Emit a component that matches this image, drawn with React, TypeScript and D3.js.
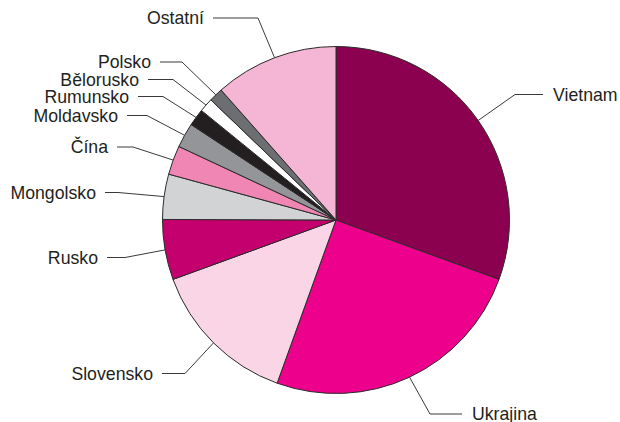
import React from 'react';
import * as d3 from 'd3';

const categories = ['Vietnam', 'Ukrajina', 'Slovensko', 'Rusko', 'Mongolsko', 'Čína', 'Moldavsko', 'Rumunsko', 'Bělorusko', 'Polsko', 'Ostatní'];
const shares = [30.5, 24.9, 13.9, 5.6, 4.2, 2.7, 2.3, 1.6, 1.3, 1.3, 11.5];
const colors = ['#8c0050', '#ec008c', '#f9d5e5', '#c4006e', '#d1d3d4', '#f086b4', '#939598', '#231f20', '#ffffff', '#6d6e71', '#f5b5d4'];

// label layout: elbow point, end of horizontal line, text anchor side
const labelLayout = [
  { ex: 515, ey: 94.5, lx: 543, side: 'right' },
  { ex: 430, ey: 414, lx: 462, side: 'right' },
  { ex: 185, ey: 373.5, lx: 162, side: 'left' },
  { ex: 125, ey: 257.5, lx: 107, side: 'left' },
  { ex: 118, ey: 192.5, lx: 105, side: 'left' },
  { ex: 133, ey: 147, lx: 117, side: 'left' },
  { ex: 147, ey: 115.5, lx: 127, side: 'left' },
  { ex: 163, ey: 96.5, lx: 138, side: 'left' },
  { ex: 173, ey: 79.5, lx: 148, side: 'left' },
  { ex: 182, ey: 62, lx: 160, side: 'left' },
  { ex: 258, ey: 18, lx: 213, side: 'left' },
];

const W = 620;
const H = 422;
const cx = 336;
const cy = 220;
const R = 173.5;

export default function App() {
  const data = categories.map((c, i) => ({ name: c, value: shares[i], color: colors[i] }));
  const pie = d3.pie<any>().sort(null).value((d: any) => d.value).startAngle(0).endAngle(2 * Math.PI);
  const arcs = pie(data);
  const arcGen = d3.arc<any>().innerRadius(0).outerRadius(R);
  const edge = d3.arc<any>().innerRadius(R).outerRadius(R);
  const textColor = '#231f20';
  return (
    <svg width={W} height={H} style={{ position: 'absolute', left: 0, top: 0, background: '#fff' }}
      fontFamily="'Liberation Sans', Arial, Helvetica, sans-serif">
      <g transform={`translate(${cx},${cy})`}>
        {arcs.map((a, i) => (
          <path key={i} d={arcGen(a) as string} fill={a.data.color} stroke="#2b2b2b" strokeWidth={1} strokeLinejoin="round" />
        ))}
      </g>
      {arcs.map((a, i) => {
        const [px, py] = edge.centroid(a);
        const L = labelLayout[i];
        const sx = cx + px;
        const sy = cy + py;
        const tx = L.side === 'right' ? L.lx + 10 : L.lx - 9;
        return (
          <g key={'l' + i}>
            <polyline points={`${sx},${sy} ${L.ex},${L.ey} ${L.lx},${L.ey}`} fill="none" stroke="#3a3a3a" strokeWidth={1} />
            <text x={tx} y={L.ey} dy="0.35em" fontSize={17.7} fill={textColor}
              textAnchor={L.side === 'right' ? 'start' : 'end'}>{a.data.name}</text>
          </g>
        );
      })}
    </svg>
  );
}
